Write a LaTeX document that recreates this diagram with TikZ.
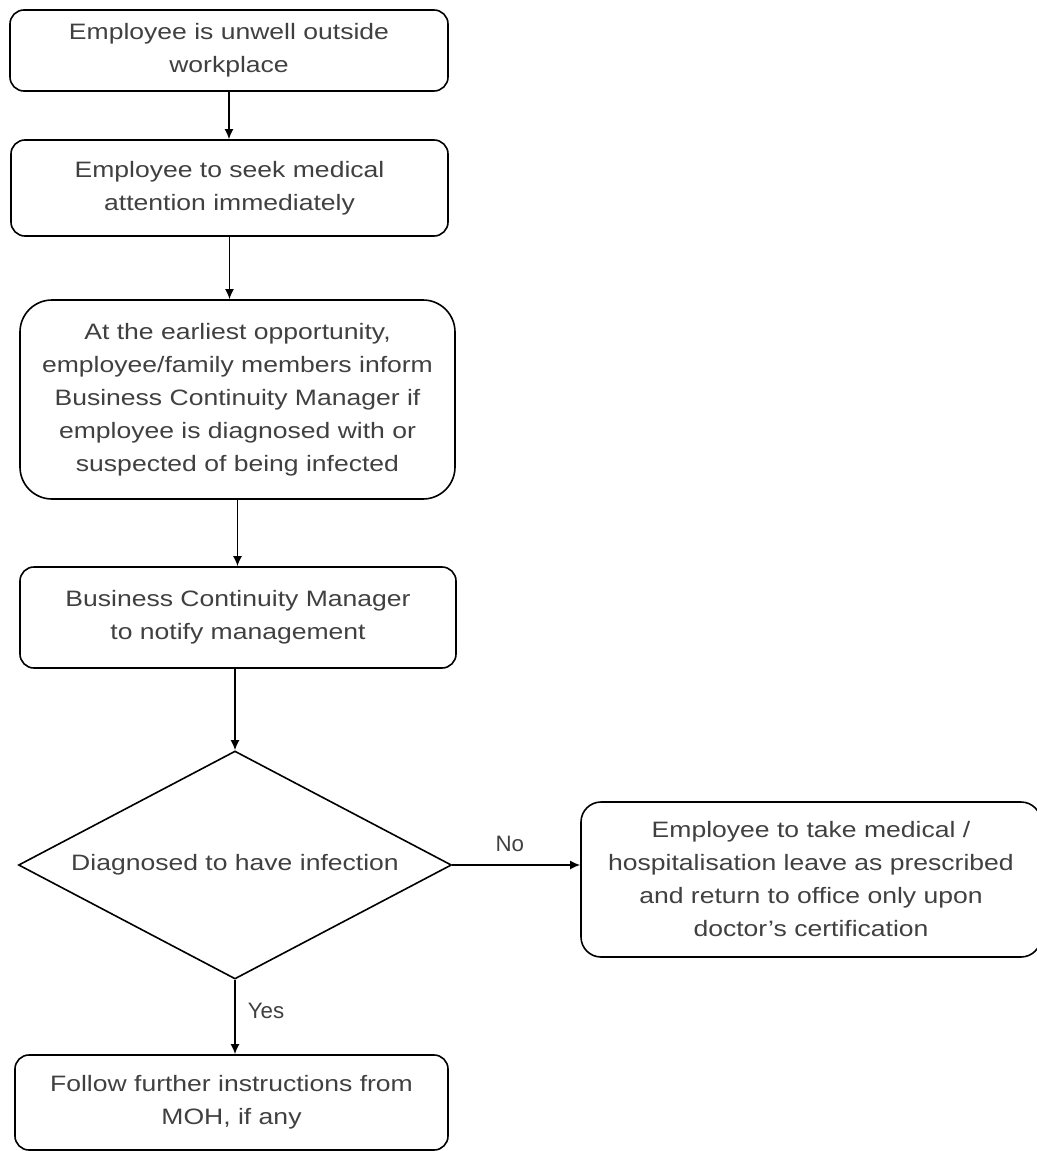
\documentclass[tikz,border=0pt]{standalone}
\usepackage{fontspec}
\setmainfont{Liberation Sans}[FakeStretch=1.19]
\newfontfamily\lblfont{Liberation Sans}
\usetikzlibrary{shapes.geometric,arrows.meta}
\definecolor{txtgray}{HTML}{404040}
\begin{document}
\begin{tikzpicture}[x=0.5pt,y=-0.5pt]
    \def\px{0.5pt}
    \useasboundingbox (0,0) rectangle (1037,1151);

    \tikzstyle{stepbox}=[draw=black,line width=0.8pt,rounded corners=7pt,text=txtgray,align=center,inner sep=0pt,font=\fontsize{11.15}{16.5}\selectfont]
    \tikzstyle{decision}=[diamond,draw=black,line width=0.8pt,aspect=1.9,inner sep=0pt,text=txtgray,font=\fontsize{11.15}{16.5}\selectfont]
    \tikzstyle{lbl}=[text=txtgray,inner sep=0pt,font=\lblfont\fontsize{11.15}{13}\selectfont]

    \node[stepbox,minimum width=438*\px,minimum height=81*\px]  (unwell) at (229,50.5) {Employee is unwell outside\\workplace};
    \node[stepbox,minimum width=437*\px,minimum height=96*\px]  (seek) at (229.5,188) {Employee to seek medical\\attention immediately};
    \node[stepbox,rounded corners=16pt,minimum width=435*\px,minimum height=199*\px]  (inform) at (237.5,399.5) {At the earliest opportunity,\\employee/family members inform\\Business Continuity Manager if\\employee is diagnosed with or\\suspected of being infected};
    \node[stepbox,minimum width=436*\px,minimum height=101*\px]  (notify) at (238,617.5) {Business Continuity Manager\\to notify management};
    \node[decision,minimum width=433*\px,minimum height=228*\px]  (infected) at (235,865) {Diagnosed to have infection};
    \node[stepbox,rounded corners=10pt,minimum width=460*\px,minimum height=155*\px]  (leave) at (811,879.5) {Employee to take medical /\\hospitalisation leave as prescribed\\and return to office only upon\\doctor’s certification};
    \node[stepbox,minimum width=433*\px,minimum height=95*\px]  (moh) at (231.5,1102.5) {Follow further instructions from\\MOH, if any};


    \pgfsetarrowsend{Latex[length=5pt,width=4.5pt]}
    \tikzstyle{fwd} = [draw=black, line width=0.8pt]

          \draw [fwd] (unwell.south) -- (unwell.south |- seek.north);
          \draw [fwd] (seek.south) -- (seek.south |- inform.north);
          \draw [fwd] (inform.south) -- (inform.south |- notify.north);
          \draw [fwd] (notify.south -| infected.north) -- (infected.north);
          \draw [fwd] (infected.east) -- node[lbl,above=6pt,pos=0.45] (no) {No} (infected.east -| leave.west);
          \draw [fwd] (infected.south) -- node[lbl,right=6pt,pos=0.42] (yes) {Yes} (infected.south |- moh.north);
  \end{tikzpicture}
\end{document}
